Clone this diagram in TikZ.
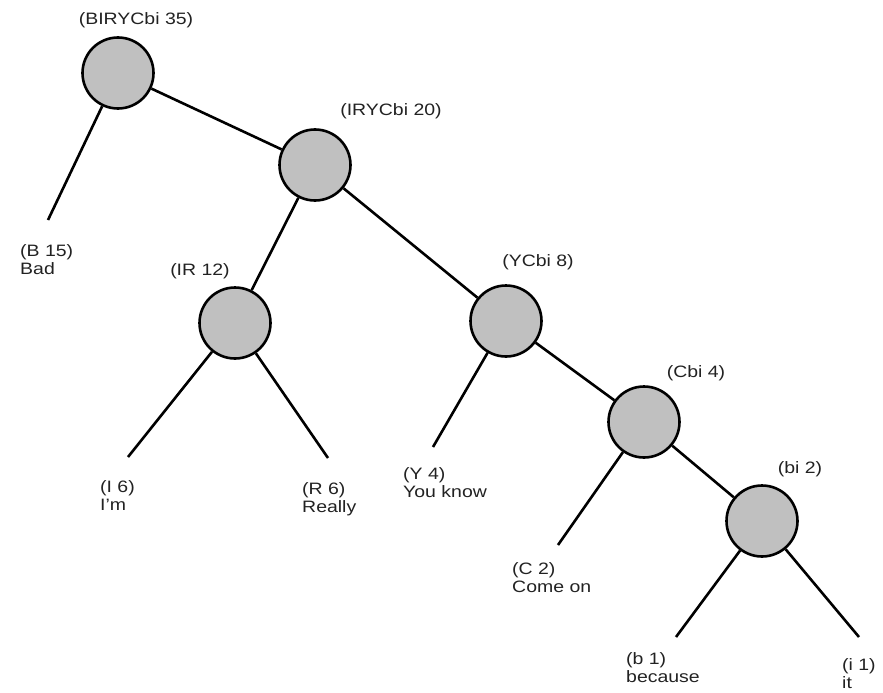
\documentclass[tikz,border=0pt]{standalone}
\usepackage{fontspec}
\setmainfont[FakeStretch=1.18]{Liberation Sans}
\definecolor{nodegray}{HTML}{C0C0C0}
\definecolor{textgray}{HTML}{222222}
\begin{document}
\begin{tikzpicture}[x=1pt,y=-1pt,
	every node/.style={font=\fontsize{16.5}{18}\selectfont, text=textgray},
	knot/.style={circle, draw=black, line width=2.6pt, fill=nodegray, minimum size=71pt, inner sep=0pt},
	lab/.style={inner sep=0pt},
	leaf/.style={inner sep=0pt, anchor=north west, align=left}]
	\useasboundingbox (0,0) rectangle (883,693);
	% inner nodes
	\node[knot] (n35) at (118,73) {};
	\node[knot] (n20) at (315,165) {};
	\node[knot] (n12) at (235,323) {};
	\node[knot] (n8) at (506,321) {};
	\node[knot] (n4) at (644,422) {};
	\node[knot] (n2) at (762,521) {};
	\node[lab] at (136,20) {(BIRYCbi 35)};
	\node[lab] at (391,111) {(IRYCbi 20)};
	\node[lab] at (200,271) {(IR 12)};
	\node[lab] at (538,262) {(YCbi 8)};
	\node[lab] at (696,373) {(Cbi 4)};
	\node[lab] at (800,469) {(bi 2)};
	% leaf ends
	\coordinate (B) at (48,220);
	\coordinate (I) at (128,457);
	\coordinate (R) at (328,458);
	\coordinate (Y) at (433,447);
	\coordinate (C) at (558,545);
	\coordinate (b) at (676,637);
	\coordinate (i) at (859,637);
	\node[leaf] at (20,244) {(B 15)\\Bad};
	\node[leaf] at (100,480) {(I 6)\\I\symbol{39}m};
	\node[leaf] at (302,482) {(R 6)\\Really};
	\node[leaf] at (403,467) {(Y 4)\\You know};
	\node[leaf] at (512,562) {(C 2)\\Come on};
	\node[leaf] at (626,652) {(b 1)\\because};
	\node[leaf] at (842,658) {(i 1)\\it};
	% branches
	\begin{scope}[line width=2.6pt]
	\draw (n35)--(B);
	\draw (n35)--(n20);
	\draw (n20)--(n12);
	\draw (n20)--(n8);
	\draw (n12)--(I);
	\draw (n12)--(R);
	\draw (n8)--(Y);
	\draw (n8)--(n4);
	\draw (n4)--(C);
	\draw (n4)--(n2);
	\draw (n2)--(b);
	\draw (n2)--(i);
	\end{scope}
\end{tikzpicture}
\end{document}
